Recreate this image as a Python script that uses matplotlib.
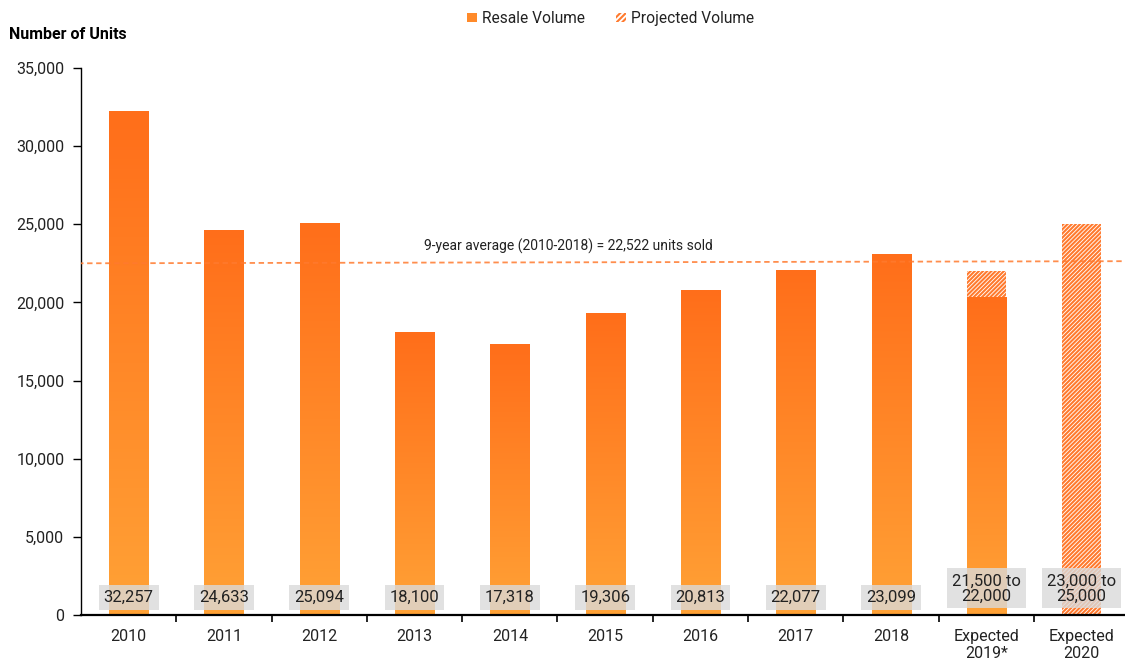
import matplotlib
matplotlib.use("Agg")
import matplotlib.pyplot as plt
import numpy as np
from matplotlib.colors import LinearSegmentedColormap
from matplotlib.patches import Patch

plt.rcParams['font.family'] = ['Roboto', 'DejaVu Sans']
plt.rcParams['hatch.linewidth'] = 1.5

# ---- data ----
categories = ['2010', '2011', '2012', '2013', '2014', '2015', '2016', '2017', '2018',
              'Expected\n2019*', 'Expected\n2020']
resale = [32257, 24633, 25094, 18100, 17318, 19306, 20813, 22077, 23099, 20350, 0]
projected_top = [0, 0, 0, 0, 0, 0, 0, 0, 0, 22000, 25000]
value_labels = ['32,257', '24,633', '25,094', '18,100', '17,318', '19,306', '20,813',
                '22,077', '23,099', '21,500 to\n22,000', '23,000 to\n25,000']
average_value = 22522
average_text = '9-year average (2010-2018) = 22,522 units sold'
y_ticks = [0, 5000, 10000, 15000, 20000, 25000, 30000, 35000]

# ---- style ----
top_col = '#FF6E1A'
bot_col = '#FFA236'
hatch_col = '#FF7A2E'
text_col = '#222222'
cmap = LinearSegmentedColormap.from_list('og', [bot_col, top_col])
grad = np.linspace(0, 1, 256).reshape(-1, 1)

fig = plt.figure(figsize=(11.25, 6.61), dpi=100)
ax = fig.add_axes([0.072, 0.0696, 0.928, 0.8275])

x = np.arange(len(categories))
width = 0.41

for xi, h in zip(x, resale):
    if h <= 0:
        continue
    bar = ax.bar(xi, h, width=width, color='none', edgecolor='none', zorder=2)[0]
    im = ax.imshow(grad, extent=[xi - width / 2, xi + width / 2, 0, h], origin='lower',
                   aspect='auto', cmap=cmap, zorder=2)
    im.set_clip_path(bar)

for xi, base, top in zip(x, resale, projected_top):
    if top > 0:
        ax.bar(xi, top - base, bottom=base, width=width, facecolor='white',
               edgecolor=hatch_col, hatch='////////', linewidth=0, zorder=2)

# average line
ax.plot([-0.72, len(categories) - 0.3], [average_value - 20, average_value + 120],
        color=hatch_col, linestyle=(0, (3, 2)), linewidth=1.3, alpha=0.85, zorder=3)
ax.text(4.61, average_value + 550, average_text, ha='center', va='bottom',
        fontsize=10, color=text_col, zorder=4)

# value labels
for xi, lab in zip(x, value_labels):
    two = '\n' in lab
    ax.text(xi, 1700 if two else 1100, lab, ha='center', va='center', fontsize=12,
            color=text_col, linespacing=1.0, zorder=5,
            bbox=dict(boxstyle='square,pad=0.3', facecolor='#DADADA', alpha=0.8,
                      edgecolor='none'))

ax.set_xlim(-0.5, 10.455)
ax.set_ylim(0, 35000)
ax.set_yticks(y_ticks)
ax.set_yticklabels([f'{v:,}' for v in y_ticks])
ax.set_xticks(x)
ax.set_xticklabels(categories, linespacing=1.15)
ax.set_xticks(np.arange(len(categories) - 1) + 0.5, minor=True)
ax.tick_params(axis='x', which='major', length=0, pad=10, labelsize=11.5, labelcolor=text_col)
ax.tick_params(axis='x', which='minor', length=5, width=1.2, direction='out', color='black')
ax.tick_params(axis='y', length=6, width=1, pad=6, labelsize=11.5, labelcolor=text_col)

for s in ['top', 'right']:
    ax.spines[s].set_visible(False)
ax.spines['left'].set_linewidth(1.0)
ax.spines['bottom'].set_linewidth(1.6)

fig.text(0.008, 0.948, 'Number of Units', fontsize=11.5, fontweight='bold',
         color='black', ha='left', va='center')

handles = [Patch(facecolor='#FF8A2A', edgecolor='none', label='Resale Volume'),
           Patch(facecolor='white', edgecolor=hatch_col, hatch='//////', linewidth=0,
                 label='Projected Volume')]
fig.legend(handles=handles, loc='center', bbox_to_anchor=(0.543, 0.972), ncol=2,
           frameon=False, fontsize=11.2, handlelength=0.6, handleheight=0.6,
           handletextpad=0.35, columnspacing=2.0, labelcolor=text_col)

fig.savefig('out.png', dpi=100)
